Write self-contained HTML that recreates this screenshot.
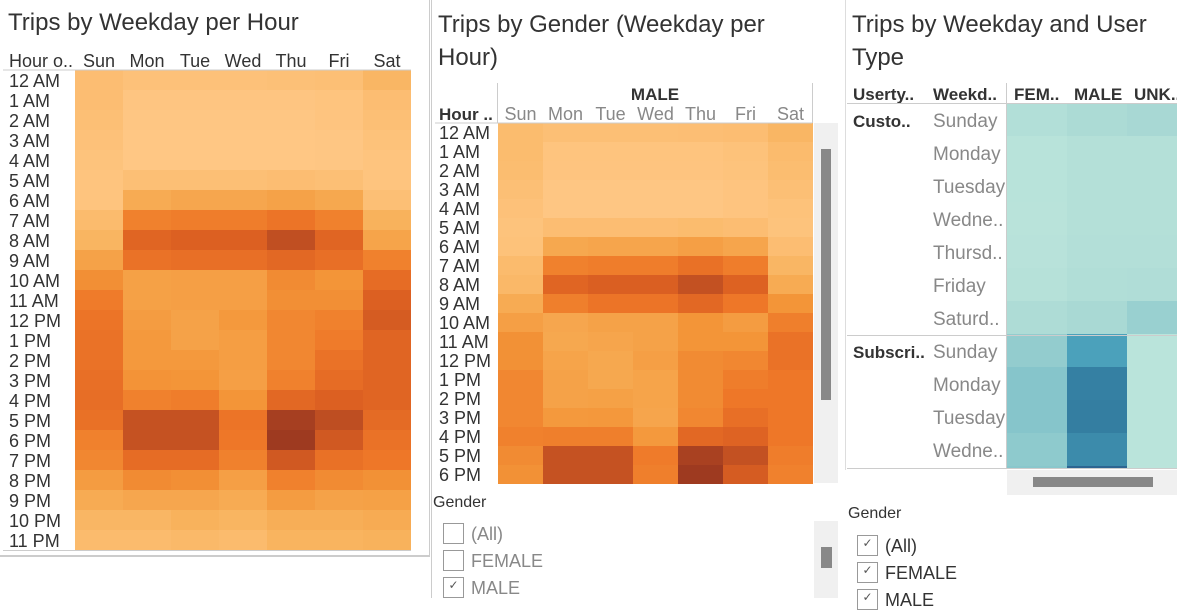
<!DOCTYPE html>
<html><head><meta charset="utf-8">
<style>
body{margin:0;width:1177px;height:598px;overflow:hidden;background:#fff;font-family:"Liberation Sans",sans-serif;color:#333;position:relative}
.a{position:absolute;white-space:nowrap}
.t{font-size:24px;color:#333}
.l{font-size:16px;color:#333}
.g{color:#888}
.cb{position:absolute;width:19px;height:19px;border:1px solid #999;background:#fff;font-size:12px;line-height:14px;text-align:center;color:#555}
</style></head><body>
<div class="a" style="left:429px;top:0;width:1px;height:556px;background:#ccc"></div>
<div class="a" style="left:0;top:555px;width:430px;height:2px;background:#ccc"></div>
<div class="a" style="left:431px;top:0;width:1px;height:598px;background:#ccc"></div>
<div class="a" style="left:845px;top:0;width:1px;height:470px;background:#ddd"></div>

<div class="a t" style="left:8px;top:9px">Trips by Weekday per Hour</div>
<div class="a t" style="left:438px;top:8px;line-height:33px">Trips by Gender (Weekday per<br>Hour)</div>
<div class="a t" style="left:852px;top:8px;line-height:33px">Trips by Weekday and User<br>Type</div>

<svg id="s" width="1177" height="598" style="position:absolute;left:0;top:0"></svg>

<div class="a l" style="left:433px;top:494px;font-size:16px">Gender</div>
<div class="cb" style="left:443px;top:523px"></div>
<div class="a l g" style="left:471px;top:524px;font-size:18px">(All)</div>
<div class="cb" style="left:443px;top:550px"></div>
<div class="a l g" style="left:471px;top:551px;font-size:18px">FEMALE</div>
<div class="cb" style="left:443px;top:577px">✓</div>
<div class="a l g" style="left:471px;top:578px;font-size:18px">MALE</div>
<div class="a" style="left:814px;top:521px;width:24px;height:77px;background:#f0f0f0"></div>
<div class="a" style="left:821px;top:547px;width:11px;height:21px;background:#888"></div>

<div class="a l" style="left:848px;top:505px;font-size:16px">Gender</div>
<div class="cb" style="left:857px;top:535px">✓</div>
<div class="a l" style="left:885px;top:536px;font-size:18px">(All)</div>
<div class="cb" style="left:857px;top:562px">✓</div>
<div class="a l" style="left:885px;top:563px;font-size:18px">FEMALE</div>
<div class="cb" style="left:857px;top:589px">✓</div>
<div class="a l" style="left:885px;top:590px;font-size:18px">MALE</div>

<script>
const days=["Sun","Mon","Tue","Wed","Thu","Fri","Sat"];
const hours=["12 AM","1 AM","2 AM","3 AM","4 AM","5 AM","6 AM","7 AM","8 AM","9 AM","10 AM","11 AM","12 PM","1 PM","2 PM","3 PM","4 PM","5 PM","6 PM","7 PM","8 PM","9 PM","10 PM","11 PM"];
const tripsAll=[
[.12,.08,.08,.08,.09,.1,.2],[.12,.03,.03,.03,.03,.05,.12],[.1,.02,.02,.02,.02,.04,.1],[.08,.01,.01,.01,.01,.02,.07],
[.06,.01,.01,.01,.01,.02,.05],[.05,.1,.1,.1,.12,.1,.05],[.05,.3,.33,.33,.36,.32,.1],[.15,.55,.57,.57,.62,.55,.25],
[.22,.72,.75,.75,.87,.72,.35],[.36,.63,.65,.65,.7,.65,.55],[.48,.37,.38,.38,.5,.45,.67],[.58,.37,.38,.38,.48,.48,.75],
[.62,.4,.36,.42,.52,.55,.78],[.63,.42,.36,.39,.52,.58,.72],[.63,.42,.42,.39,.52,.63,.72],[.65,.46,.45,.38,.55,.67,.72],
[.66,.55,.57,.45,.7,.75,.72],[.64,.85,.85,.62,.97,.88,.68],[.55,.85,.85,.6,1,.8,.63],[.52,.67,.67,.55,.8,.64,.6],
[.4,.5,.48,.38,.55,.5,.47],[.3,.33,.33,.3,.4,.36,.37],[.2,.2,.25,.22,.28,.28,.3],[.15,.15,.17,.15,.23,.23,.25]];
const tripsMale=[
[.14,.1,.1,.1,.11,.12,.2],[.14,.05,.05,.05,.05,.07,.15],[.13,.04,.04,.04,.04,.06,.13],[.1,.02,.02,.02,.02,.04,.1],
[.08,.02,.02,.02,.02,.04,.07],[.06,.12,.12,.12,.14,.12,.06],[.07,.32,.34,.34,.38,.34,.12],[.15,.55,.57,.57,.64,.57,.2],
[.18,.72,.76,.76,.86,.74,.3],[.3,.56,.62,.62,.7,.6,.45],[.38,.33,.36,.36,.45,.4,.56],[.47,.32,.34,.36,.45,.45,.63],
[.47,.35,.32,.38,.5,.52,.63],[.52,.36,.32,.35,.5,.57,.6],[.52,.36,.37,.35,.5,.6,.6],[.52,.42,.43,.34,.52,.65,.6],
[.55,.56,.56,.42,.7,.73,.6],[.5,.85,.85,.58,.96,.86,.57],[.47,.85,.85,.56,1,.78,.55]];
const userTypes=["Custo..","Subscri.."];
const weekdays=["Sunday","Monday","Tuesday","Wedne..","Thursd..","Friday","Saturd.."];
const genders=["FEM..","MALE","UNK.."];
const custVals=[[.15,.22,.28],[.07,.13,.12],[.07,.12,.12],[.06,.12,.12],[.08,.14,.14],[.1,.16,.18],[.2,.26,.38]];
const subVals=[[.42,.7,.05],[.5,.85,.05],[.5,.86,.05],[.45,.8,.05],[.48,.97,.05]];

const NS="http://www.w3.org/2000/svg";
const svg=document.getElementById('s');
function hx(c){return [1,3,5].map(i=>parseInt(c.substr(i,2),16));}
function ramp(stops,v){v=Math.max(0,Math.min(1,v));for(let i=1;i<stops.length;i++){if(v<=stops[i][0]){const a=stops[i-1],b=stops[i],t=(v-a[0])/(b[0]-a[0]);const ca=hx(a[1]),cb=hx(b[1]);return 'rgb('+ca.map((x,k)=>Math.round(x+(cb[k]-x)*t)).join(',')+')';}}return stops[stops.length-1][1];}
const orange=[[0,'#FFC886'],[.25,'#F8B25C'],[.45,'#F39538'],[.6,'#EE7728'],[.75,'#DC6022'],[.88,'#BE4E22'],[1,'#9E3A20']];
const teal=[[0,'#BEE6DC'],[.3,'#A6D7D3'],[.5,'#86C5CB'],[.7,'#4BA1BB'],[.85,'#3580A3'],[1,'#2B5E8C']];
function el(tag,attrs){const e=document.createElementNS(NS,tag);for(const k in attrs)e.setAttribute(k,attrs[k]);svg.appendChild(e);return e;}
function txt(x,y,s,size,fill,anchor,weight){const e=el('text',{x:x,y:y,'font-size':size,fill:fill,'text-anchor':anchor||'start','font-family':'Liberation Sans, sans-serif','font-weight':weight||'normal'});e.textContent=s;return e;}

// Chart 1
const c1={x0:75,y0:70,cw:48,rh:20};
const xs1=i=>c1.x0+i*c1.cw, ys1=j=>c1.y0+j*c1.rh;
let t=txt(9,67,"Hour o..",18,'#333','start','normal');


days.forEach((d,i)=>{const e=txt(xs1(i)+c1.cw/2,67,d,18,'#333','middle');

});
hours.forEach((h,j)=>{const e=txt(9,ys1(j)+17,h,18,'#333');


tripsAll[j].forEach((v,i)=>{const r=el('rect',{x:xs1(i),y:ys1(j),width:c1.cw,height:c1.rh,fill:ramp(orange,v)});

});});
let ln=el('line',{x1:3,x2:411,y1:70,y2:70,stroke:'#ccc'});


ln=el('line',{x1:3,x2:411,y1:550.5,y2:550.5,stroke:'#ccc'});



// Chart 2
const c2={x0:498,y0:123,cw:45,rh:19};
const xs2=i=>c2.x0+i*c2.cw, ys2=j=>c2.y0+j*c2.rh;
t=txt(c2.x0+157,100,"MALE",17,'#333','middle','bold');


t=txt(439,120,"Hour ..",17,'#333','start','bold');


days.forEach((d,i)=>{const e=txt(xs2(i)+c2.cw/2,120,d,18,'#888','middle');

});
tripsMale.forEach((row,j)=>{const e=txt(439,ys2(j)+16,hours[j],18,'#333');


row.forEach((v,i)=>{const r=el('rect',{x:xs2(i),y:ys2(j),width:c2.cw,height:c2.rh,fill:ramp(orange,v)});

});});
[497.5,812.5].forEach(x=>{const l=el('line',{x1:x,x2:x,y1:83,y2:123,stroke:'#ccc'});

});
ln=el('line',{x1:435,x2:812,y1:123,y2:123,stroke:'#ccc'});


let sb=el('rect',{x:814,y:123,width:24,height:360,fill:'#f0f0f0'});


sb=el('rect',{x:821,y:149,width:10,height:251,fill:'#888'});



// Chart 3
const c3={x0:1007,y0:103,cw:60,rh:33};
const xs3=i=>c3.x0+i*c3.cw, ys3=j=>c3.y0+j*c3.rh;
[["Userty..",853],["Weekd..",933]].forEach(([s,x])=>{const e=txt(x,100,s,17,'#333','start','bold');

});
genders.forEach((g,i)=>{const e=txt(xs3(i)+7,100,g,17,'#333','start','bold');

});
const allRows=custVals.map((r,k)=>[0,k,r]).concat(subVals.map((r,k)=>[1,k,r]));
allRows.forEach(([u,k,row],j)=>{
 if(k===0){const e=txt(853,ys3(j)+24,userTypes[u],17,'#333','start','bold');
 
 }
 if(j<11){const e=txt(933,ys3(j)+24,weekdays[k],19,'#888');
 
 }
 row.forEach((v,i)=>{const h=j===11?2:c3.rh;const r=el('rect',{x:xs3(i),y:ys3(j),width:c3.cw,height:h,fill:ramp(teal,v)});
 
 });
});
[[847,1177,103.5],[847,1177,335.5],[847,1177,468.5]].forEach(([a,b,y])=>{const l=el('line',{x1:a,x2:b,y1:y,y2:y,stroke:'#ccc'});

});
ln=el('line',{x1:1006.5,x2:1006.5,y1:83,y2:468,stroke:'#ccc'});


sb=el('rect',{x:1007,y:470,width:170,height:25,fill:'#f0f0f0'});


sb=el('rect',{x:1033,y:477,width:120,height:10,fill:'#888'});


</script>
</body></html>
